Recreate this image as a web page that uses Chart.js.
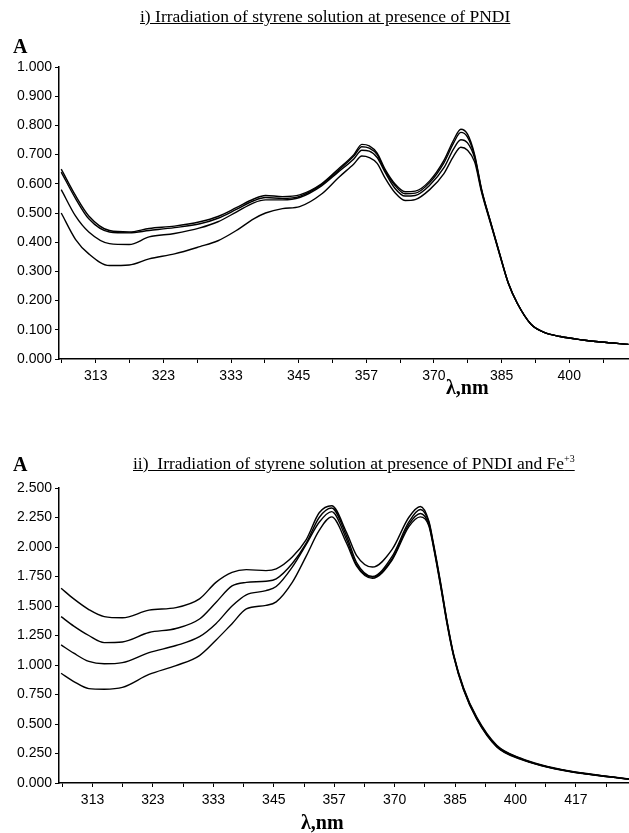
<!DOCTYPE html>
<html><head><meta charset="utf-8">
<script src="https://cdn.jsdelivr.net/npm/chart.js@4"></script>
<style>
html,body{margin:0;padding:0;background:#fff;width:629px;height:833px;overflow:hidden;position:relative;}
canvas{position:absolute;left:0;}
#c1{top:0;} #c2{top:405px;}
.t{position:absolute;white-space:nowrap;color:#000;font-family:"Liberation Serif","Times New Roman",serif;line-height:1;}
.u{text-decoration:underline;font-size:17.5px;}
.a{font-weight:bold;font-size:20px;}
.l{font-weight:bold;font-size:20px;}
sup{font-size:10px;vertical-align:7px;line-height:0;}
</style></head><body>
<canvas id="c1" width="629" height="405" style="width:629px;height:405px"></canvas>
<canvas id="c2" width="629" height="428" style="width:629px;height:428px"></canvas>
<div class="t u" style="left:140px;top:8px;">i) Irradiation of styrene solution at presence of PNDI</div>
<div class="t a" style="left:13px;top:36px;">A</div>
<div class="t l" style="left:446px;top:377px;">λ,nm</div>
<div class="t a" style="left:13px;top:454px;">A</div>
<div class="t u" style="left:133px;top:455px;">ii)&nbsp; Irradiation of styrene solution at presence of PNDI and Fe<sup>+3</sup></div>
<div class="t l" style="left:301px;top:812px;">λ,nm</div>
<script>
// ---- Panel i) data (wavelength, nm; absorbance) ----
const wlTop = [307.6,309.6,311.5,314.5,317.4,320.4,324.3,328.3,331.2,334.2,337.1,339.1,342.0,345.0,348.9,351.9,354.8,356.3,357.7,359.2,360.7,362.6,364.6,366.6,369.5,372.4,374.4,375.9,377.3,378.8,380.3,382.2,384.2,386.1,388.1,391.1,394.0,397.9,402.8,407.7,414.5];
const topS1 = [0.65,0.56,0.49,0.44,0.435,0.447,0.455,0.47,0.488,0.518,0.548,0.56,0.556,0.562,0.60,0.65,0.70,0.735,0.73,0.705,0.65,0.60,0.573,0.575,0.61,0.68,0.75,0.787,0.77,0.70,0.58,0.47,0.36,0.26,0.19,0.12,0.092,0.077,0.066,0.058,0.05];
const topS2 = [0.64,0.55,0.48,0.435,0.432,0.44,0.45,0.463,0.482,0.512,0.542,0.553,0.55,0.557,0.597,0.645,0.695,0.727,0.722,0.70,0.645,0.595,0.566,0.568,0.604,0.672,0.74,0.776,0.76,0.695,0.578,0.47,0.36,0.26,0.19,0.12,0.092,0.077,0.066,0.058,0.05];
const topS3 = [0.58,0.49,0.435,0.395,0.392,0.418,0.43,0.449,0.47,0.503,0.535,0.545,0.545,0.553,0.593,0.64,0.685,0.715,0.712,0.69,0.64,0.585,0.558,0.56,0.595,0.655,0.72,0.751,0.74,0.688,0.575,0.468,0.358,0.259,0.19,0.12,0.092,0.077,0.066,0.058,0.05];
const topS4 = [0.50,0.41,0.36,0.32,0.322,0.343,0.36,0.385,0.405,0.44,0.48,0.50,0.515,0.522,0.565,0.62,0.668,0.695,0.69,0.67,0.62,0.57,0.543,0.546,0.58,0.635,0.695,0.725,0.715,0.675,0.57,0.465,0.356,0.258,0.19,0.12,0.092,0.077,0.066,0.058,0.05];
const topTickLabels = ["313","323","333","345","357","370","385","400"];

// ---- Panel ii) data ----
const wlBot = [307.5,309.5,311.9,314.4,317.4,321.9,326.6,330.8,333.8,336.8,339.5,343.3,345.3,348.5,351.3,354.0,356.6,359.8,361.9,365.4,369.8,373.6,376.3,378.3,379.4,381.1,382.7,384.3,386.7,390.0,395.1,401.4,406.8,415.2,423.7,432.5];
const botS1 = [1.65,1.56,1.47,1.41,1.40,1.465,1.486,1.56,1.70,1.785,1.808,1.80,1.815,1.915,2.06,2.29,2.35,2.12,1.93,1.83,1.98,2.25,2.343,2.22,2.03,1.70,1.365,1.086,0.808,0.558,0.32,0.21,0.155,0.10,0.065,0.035];
const botS2 = [1.41,1.33,1.25,1.19,1.195,1.275,1.309,1.39,1.53,1.67,1.70,1.71,1.73,1.86,2.03,2.25,2.33,2.09,1.87,1.75,1.92,2.21,2.318,2.21,2.02,1.69,1.36,1.08,0.80,0.55,0.315,0.207,0.152,0.098,0.063,0.034];
const botS3 = [1.17,1.10,1.03,1.01,1.02,1.105,1.165,1.24,1.35,1.50,1.595,1.63,1.665,1.83,2.02,2.21,2.30,2.06,1.85,1.745,1.90,2.19,2.284,2.19,2.01,1.68,1.35,1.075,0.795,0.545,0.31,0.204,0.15,0.096,0.062,0.033];
const botS4 = [0.93,0.86,0.80,0.795,0.81,0.92,0.995,1.08,1.21,1.35,1.475,1.505,1.535,1.70,1.92,2.14,2.255,2.03,1.84,1.735,1.89,2.17,2.255,2.18,2.00,1.67,1.34,1.07,0.79,0.54,0.305,0.20,0.148,0.095,0.061,0.032];
const botTickLabels = ["313","323","333","345","357","370","385","400","417"];

const FONT = {family:'"Liberation Sans", Arial, sans-serif', size:14};

function makeChart(id, wl, series, yMax, yStep, xMin, xMax, tickLabels, padTop, xAxisH) {
  new Chart(document.getElementById(id), {
    type: 'line',
    data: {
      datasets: series.map(s => ({
        data: wl.map((w, i) => ({x: 1e7 / w, y: s[i]})),
        borderColor: '#000', borderWidth: 1.4, pointRadius: 0,
        cubicInterpolationMode: 'monotone', fill: false
      }))
    },
    options: {
      responsive: false, animation: false, devicePixelRatio: 1,
      layout: {padding: {left: 0, right: 0, top: padTop, bottom: 0}},
      plugins: {legend: {display: false}, tooltip: {enabled: false}},
      scales: {
        x: {
          type: 'linear', reverse: true, min: xMin, max: xMax,
          afterBuildTicks: s => { const t = []; for (let v = 32500; v >= xMin; v -= 500) t.push({value: v}); s.ticks = t; },
          afterFit: s => { s.height = xAxisH; },
          grid: {drawOnChartArea: false, drawTicks: true, tickLength: 4, color: '#000', lineWidth: 1},
          border: {display: true, color: '#000', width: 1.5},
          ticks: {autoSkip: false, maxRotation: 0, padding: 5, color: '#000', font: FONT,
            callback: v => { const k = (32000 - v) / 1000; return (Number.isInteger(k) && k >= 0 && k < tickLabels.length) ? tickLabels[k] : ''; }}
        },
        y: {
          min: 0, max: yMax,
          afterBuildTicks: s => { const t = []; const n = Math.round(yMax / yStep); for (let i = 0; i <= n; i++) t.push({value: i * yStep}); s.ticks = t; },
          afterFit: s => { s.width = 59; },
          grid: {drawOnChartArea: false, drawTicks: true, tickLength: 4, color: '#000', lineWidth: 1},
          border: {display: true, color: '#000', width: 1.5},
          ticks: {padding: 3, color: '#000', font: FONT, callback: v => v.toFixed(3)}
        }
      }
    }
  });
}

makeChart('c1', wlTop, [topS1, topS2, topS3, topS4], 1.0, 0.1, 24117, 32543, topTickLabels, 67, 46);
makeChart('c2', wlBot, [botS1, botS2, botS3, botS4], 2.5, 0.25, 23121, 32555, botTickLabels, 83, 50);
</script>
</body></html>
